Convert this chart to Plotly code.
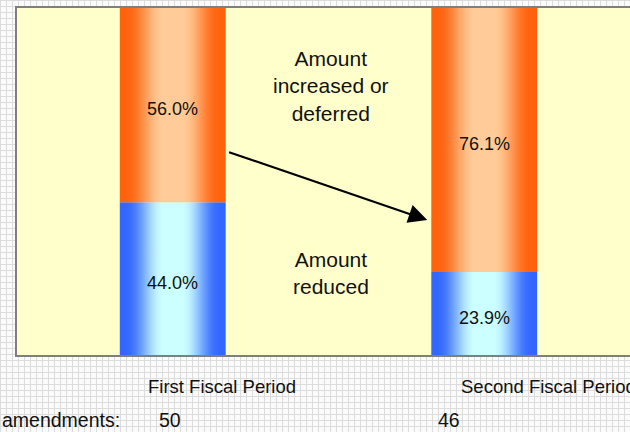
import base64
import plotly.graph_objects as go

# ---- data -------------------------------------------------------------
periods = ["First Fiscal Period", "Second Fiscal Period"]
pct_reduced = [44.0, 23.9]
pct_increased = [56.0, 76.1]
amendments = [50, 46]
amend_label = "amendments:"
label_increased = "Amount<br>increased or<br>deferred"
label_reduced = "Amount<br>reduced"

FONT = "Liberation Sans, Arial, sans-serif"
BAR_W = 0.34

ORANGE_EDGE, ORANGE_MID = (255, 98, 12), (255, 204, 153)
BLUE_EDGE, BLUE_MID = (51, 102, 255), (204, 255, 255)


def shade(edge, mid, t):
    """Cylinder-like horizontal gradient: light centre, saturated edges."""
    d = abs(t - 0.5) * 2
    f = min(max((d - 0.18) / 0.7, 0.0), 1.0)
    f = f * f * (3 - 2 * f)
    c = [round(m + (e - m) * f) for e, m in zip(edge, mid)]
    return f"rgb({c[0]},{c[1]},{c[2]})"


def scale(edge, mid, n=21):
    return [[i / (n - 1), shade(edge, mid, i / (n - 1))] for i in range(n)]


def column(i, base, height, edge, mid):
    """Closed rectangle for one stacked segment, filled with a horizontal gradient."""
    x0, x1 = i - BAR_W / 2, i + BAR_W / 2
    return go.Scatter(
        x=[x0, x1, x1, x0, x0],
        y=[base, base, base + height, base + height, base],
        mode="lines", line=dict(width=0), fill="toself",
        fillgradient=dict(type="horizontal", colorscale=scale(edge, mid),
                          start=x0, stop=x1),
        hoverinfo="skip", showlegend=False)


fig = go.Figure()
for i in range(len(periods)):
    fig.add_trace(column(i, 0, pct_reduced[i], BLUE_EDGE, BLUE_MID))
    fig.add_trace(column(i, pct_reduced[i], pct_increased[i], ORANGE_EDGE, ORANGE_MID))

annotations = []
# percentage labels inside each segment
for i in range(len(periods)):
    annotations.append(dict(x=i, y=pct_reduced[i] / 2, xref="x", yref="y",
                            text=f"{pct_reduced[i]:.1f}%", showarrow=False, yshift=-4,
                            font=dict(family=FONT, size=18, color="#111111")))
    annotations.append(dict(x=i, y=pct_reduced[i] + pct_increased[i] / 2, xref="x", yref="y",
                            text=f"{pct_increased[i]:.1f}%", showarrow=False, yshift=-4,
                            font=dict(family=FONT, size=18, color="#111111")))

# descriptive labels between the bars
annotations.append(dict(x=0.509, y=77.5, xref="x", yref="y", text=label_increased,
                        showarrow=False, font=dict(family=FONT, size=21, color="#111111")))
annotations.append(dict(x=0.509, y=23.6, xref="x", yref="y", text=label_reduced,
                        showarrow=False, font=dict(family=FONT, size=21, color="#111111")))

# arrow from first period to second period
annotations.append(dict(x=0.817, y=38.9, ax=0.176, ay=58.6, xref="x", yref="y",
                        axref="x", ayref="y", text="", showarrow=True,
                        arrowhead=2, arrowsize=1.7, arrowwidth=2.2, arrowcolor="#000000",
                        standoff=0, startstandoff=0))

# period names under the plot
period_x = [-0.085, 0.919]
for px, name in zip(period_x, periods):
    annotations.append(dict(x=px, y=-0.09, xref="x", yref="paper", text=name,
                            xanchor="left", yanchor="middle", showarrow=False,
                            font=dict(family=FONT, size=18.5, color="#111111")))

# number of amendments row
annotations.append(dict(x=-0.162, y=-0.187, xref="x", yref="paper", text=amend_label,
                        xanchor="right", yanchor="middle", showarrow=False,
                        font=dict(family=FONT, size=19.5, color="#111111")))
amend_x = [-0.008, 0.886]
for px, n in zip(amend_x, amendments):
    annotations.append(dict(x=px, y=-0.187, xref="x", yref="paper", text=str(n),
                            xanchor="center", yanchor="middle", showarrow=False,
                            font=dict(family=FONT, size=19.5, color="#111111")))

# light grid backdrop for the page
W, H = 630, 432
grid_svg = (
    f'<svg xmlns="http://www.w3.org/2000/svg" width="{W}" height="{H}">'
    '<defs><pattern id="g" width="6" height="6" patternUnits="userSpaceOnUse">'
    '<rect width="6" height="6" fill="#fbfbfb"/>'
    '<path d="M0 0.5H6M0.5 0V6" stroke="#dcdcdc" stroke-width="1"/>'
    '</pattern></defs>'
    f'<rect width="{W}" height="{H}" fill="url(#g)"/></svg>'
)
grid_uri = "data:image/svg+xml;base64," + base64.b64encode(grid_svg.encode()).decode()

ML, MT, MB = 17, 8, 77
plot_w, plot_h = W - ML, H - MT - MB

fig.update_layout(
    width=W, height=H,
    margin=dict(l=ML, r=0, t=MT, b=MB, pad=0),
    paper_bgcolor="white",
    plot_bgcolor="rgba(0,0,0,0)",
    showlegend=False,
    annotations=annotations,
    images=[dict(source=grid_uri, xref="paper", yref="paper",
                 x=-ML / plot_w, y=1 + MT / plot_h,
                 sizex=W / plot_w, sizey=H / plot_h,
                 xanchor="left", yanchor="top", sizing="stretch", layer="below")],
    shapes=[dict(type="rect", xref="paper", yref="paper", x0=0, x1=1.05, y0=0, y1=1,
                 fillcolor="#ffffcc", line=dict(width=0), layer="below")],
    xaxis=dict(range=[-0.5, -0.5 + plot_w / 311.5],
               tickvals=list(range(len(periods))), ticktext=periods,
               showticklabels=False, ticks="", showgrid=False, zeroline=False,
               showline=True, linecolor="#7f7f7f", linewidth=2, mirror=True),
    yaxis=dict(range=[0, 100], showticklabels=False, ticks="", showgrid=False,
               zeroline=False, showline=True, linecolor="#7f7f7f", linewidth=2),
)

fig.write_html("out.html")
